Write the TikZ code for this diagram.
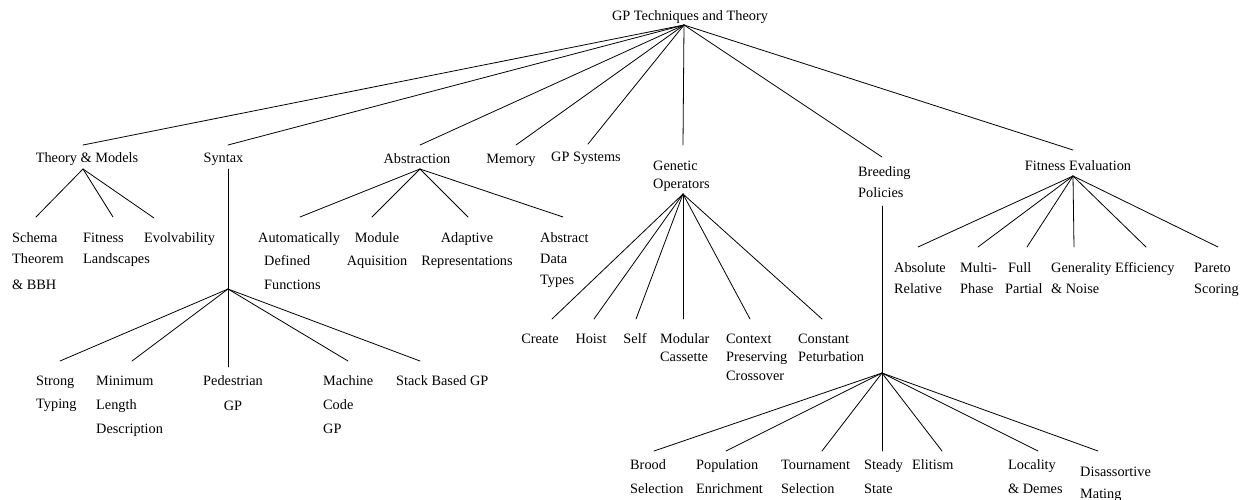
\documentclass[tikz,border=0pt]{standalone}
\usepackage{fontspec}
\setmainfont{Liberation Serif}
\begin{document}
\begin{tikzpicture}[x=1pt,y=-1pt,
  lbl/.style={inner sep=0pt,font=\fontsize{14.3}{#1}\selectfont},
  lbl/.default=22,
  L/.style={lbl=#1,align=left,anchor=base west},
  L/.default=22,
  C/.style={lbl=#1,align=center,anchor=base},
  C/.default=22,
  link/.style={line width=0.8pt,line cap=round}]
\useasboundingbox (0,0) rectangle (1245,499);
% Multi-line labels are placed by the baseline of their last line.

% ---------- root ----------
\node[C] (root) at (690,20) {GP Techniques and Theory};
\coordinate (root-out) at (684,25);

% ---------- first level ----------
\node[C] (tm)  at (87,162)  {Theory \& Models};
\node[C] (syn) at (223.5,162) {Syntax};
\node[C] (abs) at (417,163) {Abstraction};
\node[C] (mem) at (511,163) {Memory};
\node[C] (gps) at (586,161) {GP Systems};
\node[L=18] (gen) at (653,188) {Genetic\\Operators};
\node[L=21] (bre) at (858,197) {Breeding\\Policies};
\node[C] (fit) at (1078,170) {Fitness Evaluation};

\coordinate (tm-in)  at (83,145);
\coordinate (syn-in) at (228,145);
\coordinate (abs-in) at (420,145);
\coordinate (mem-in) at (516,145);
\coordinate (gps-in) at (588,144);
\coordinate (gen-in) at (683,145);
\coordinate (bre-in) at (882,157);
\coordinate (fit-in) at (1073,150);

\foreach \n in {tm,syn,abs,mem,gps,gen,bre,fit}
  \draw[link] (root-out) -- (\n-in);

% ---------- Theory & Models ----------
\coordinate (tm-out) at (83,169);
\node[L=21] (schema) at (12,289) {Schema\\Theorem\\[5pt]\& BBH};
\node[L=21] (fland)  at (83,263) {Fitness\\Landscapes};
\node[L] (evolv)     at (144,242) {Evolvability};
\coordinate (schema-in) at (36,217);
\coordinate (fland-in)  at (113,217);
\coordinate (evolv-in)  at (154,218);
\foreach \n in {schema,fland,evolv}
  \draw[link] (tm-out) -- (\n-in);

% ---------- Syntax ----------
\coordinate (syn-out) at (228,169);
\coordinate (syn-hub) at (228,289);
\draw[link] (syn-out) -- (syn-hub);
\node[L=23] (strong) at (36,408)  {Strong\\Typing};
\node[L=24] (mdl)    at (96,433)  {Minimum\\Length\\Description};
\node[C=25] (ped)    at (233,410) {Pedestrian\\GP};
\node[L=24] (mcode)  at (323,433) {Machine\\Code\\GP};
\node[L] (stack)     at (396,385) {Stack Based GP};
\coordinate (strong-in) at (60,361);
\coordinate (mdl-in)    at (132,361);
\coordinate (ped-in)    at (228,367);
\coordinate (mcode-in)  at (348,361);
\coordinate (stack-in)  at (420,361);
\foreach \n in {strong,mdl,ped,mcode,stack}
  \draw[link] (syn-hub) -- (\n-in);

% ---------- Abstraction ----------
\coordinate (abs-out) at (420,169);
\node[L=23.5] (adf)   at (258,289) {Automatically\\\hspace*{6pt}Defined\\\hspace*{6pt}Functions};
\node[C=23] (modacq)  at (377,265) {Module\\Aquisition};
\node[C=23] (adrep)   at (467,265) {Adaptive\\Representations};
\node[L=21] (adt)     at (540,284) {Abstract\\Data\\Types};
\coordinate (adf-in)    at (300,217);
\coordinate (modacq-in) at (372,217);
\coordinate (adrep-in)  at (468,217);
\coordinate (adt-in)    at (563,217);
\foreach \n in {adf,modacq,adrep,adt}
  \draw[link] (abs-out) -- (\n-in);

% ---------- Genetic Operators ----------
\coordinate (gen-out) at (683,194);
\node[C] (create)  at (540,343) {Create};
\node[C] (hoist)   at (591,343) {Hoist};
\node[C] (self)    at (635,343) {Self};
\node[L=18.5] (modcas)  at (660,361.5) {Modular\\Cassette};
\node[L=18.5] (cpx)     at (726,380) {Context\\Preserving\\Crossover};
\node[L=18.5] (constp)  at (798,361.5) {Constant\\Peturbation};
\coordinate (create-in) at (552,319);
\coordinate (hoist-in)  at (594,319);
\coordinate (self-in)   at (636,319);
\coordinate (modcas-in) at (683,319);
\coordinate (cpx-in)    at (750,319);
\coordinate (constp-in) at (822,319);
\foreach \n in {create,hoist,self,modcas,cpx,constp}
  \draw[link] (gen-out) -- (\n-in);

% ---------- Breeding Policies ----------
\coordinate (bre-out) at (882,206);
\coordinate (bre-hub) at (882,373);
\draw[link] (bre-out) -- (bre-hub);
\node[L=24] (brood)  at (630,493)  {Brood\\Selection};
\node[L=24] (popen)  at (696,493)  {Population\\Enrichment};
\node[L=24] (tourn)  at (781,493)  {Tournament\\Selection};
\node[L=24] (steady) at (864,493)  {Steady\\State};
\node[L]    (elit)   at (912,469)  {Elitism};
\node[L=24] (local)  at (1008,493) {Locality\\\& Demes};
\node[L=22] (disas)  at (1080,498) {Disassortive\\Mating};
\coordinate (brood-in)  at (654,451);
\coordinate (popen-in)  at (726,451);
\coordinate (tourn-in)  at (822,451);
\coordinate (steady-in) at (882,451);
\coordinate (elit-in)   at (942,451);
\coordinate (local-in)  at (1038,451);
\coordinate (disas-in)  at (1098,451);
\foreach \n in {brood,popen,tourn,steady,elit,local,disas}
  \draw[link] (bre-hub) -- (\n-in);

% ---------- Fitness Evaluation ----------
\coordinate (fit-out) at (1073,176);
\node[L=21] (absrel) at (894,293)  {Absolute\\Relative};
\node[L=21] (multi)  at (960,293)  {Multi-\\Phase};
\node[L=21] (fullp)  at (1005,293) {\hspace*{3pt}Full\\Partial};
\node[L=21] (genno)  at (1051,293) {Generality\\\& Noise};
\node[L]    (effic)  at (1115,272) {Efficiency};
\node[L=21] (pareto) at (1194,293) {Pareto\\Scoring};
\coordinate (absrel-in) at (918,247);
\coordinate (multi-in)  at (978,247);
\coordinate (fullp-in)  at (1027,247);
\coordinate (genno-in)  at (1074,247);
\coordinate (effic-in)  at (1146,247);
\coordinate (pareto-in) at (1218,247);
\foreach \n in {absrel,multi,fullp,genno,effic,pareto}
  \draw[link] (fit-out) -- (\n-in);
\end{tikzpicture}
\end{document}
